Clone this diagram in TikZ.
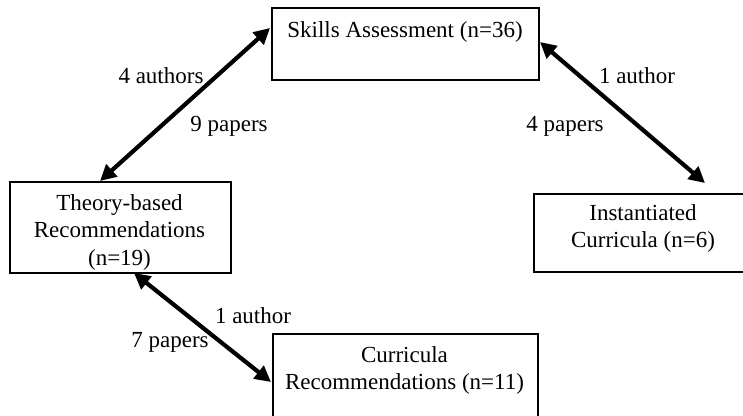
\documentclass[tikz,border=0pt]{standalone}
\usepackage{fontspec}
\setmainfont{Liberation Serif}
\usetikzlibrary{arrows.meta}
\begin{document}
\begin{tikzpicture}[x=1pt,y=-1pt,
  box/.style={draw=black,line width=1.5pt,inner sep=0pt,anchor=north west},
  lbl/.style={inner sep=0pt,anchor=base,font=\fontsize{23}{27.6}\selectfont},
  blines/.style={inner sep=0pt,anchor=north,align=center,font=\fontsize{23}{27.6}\selectfont},
  link/.style={line width=4.2pt,{Triangle[length=16pt,width=16pt]}-{Triangle[length=16pt,width=16pt]}}]
\useasboundingbox (0,0) rectangle (743,415);
\clip (0,0) rectangle (743,415);
% boxes
\node[box,minimum width=267pt,minimum height=72pt] (skills) at (271,7) {};
\node[box,minimum width=221pt,minimum height=91pt] (theory) at (9,181) {};
\node[box,minimum width=220pt,minimum height=78pt] (inst) at (533,193) {};
\node[box,minimum width=265pt,minimum height=90pt] (curr) at (272,333) {};
% box texts
\node[blines] (tskills) at (405,21) {Skills Assessment (n=36)};
\node[blines] (ttheory) at (119.5,194) {Theory-based\\Recommendations\\(n=19)};
\node[blines] (tinst) at (643,204) {Instantiated\\Curricula (n=6)};
\node[blines] (tcurr) at (404.5,346) {Curricula\\Recommendations (n=11)};
% arrow end points
\coordinate (a1s) at (270,28);
\coordinate (a1e) at (100,181);
\coordinate (a2s) at (540,42);
\coordinate (a2e) at (705,183);
\coordinate (a3s) at (134,273);
\coordinate (a3e) at (271,382);
\draw[link] (a1s) -- (a1e);
\draw[link] (a2s) -- (a2e);
\draw[link] (a3s) -- (a3e);
% labels
\node[lbl] (l1) at (161,83) {4 authors};
\node[lbl] (l2) at (229,131) {9 papers};
\node[lbl] (l3) at (637,83) {1 author};
\node[lbl] (l4) at (565,131) {4 papers};
\node[lbl] (l5) at (253,323) {1 author};
\node[lbl] (l6) at (170,347) {7 papers};
\end{tikzpicture}
\end{document}
